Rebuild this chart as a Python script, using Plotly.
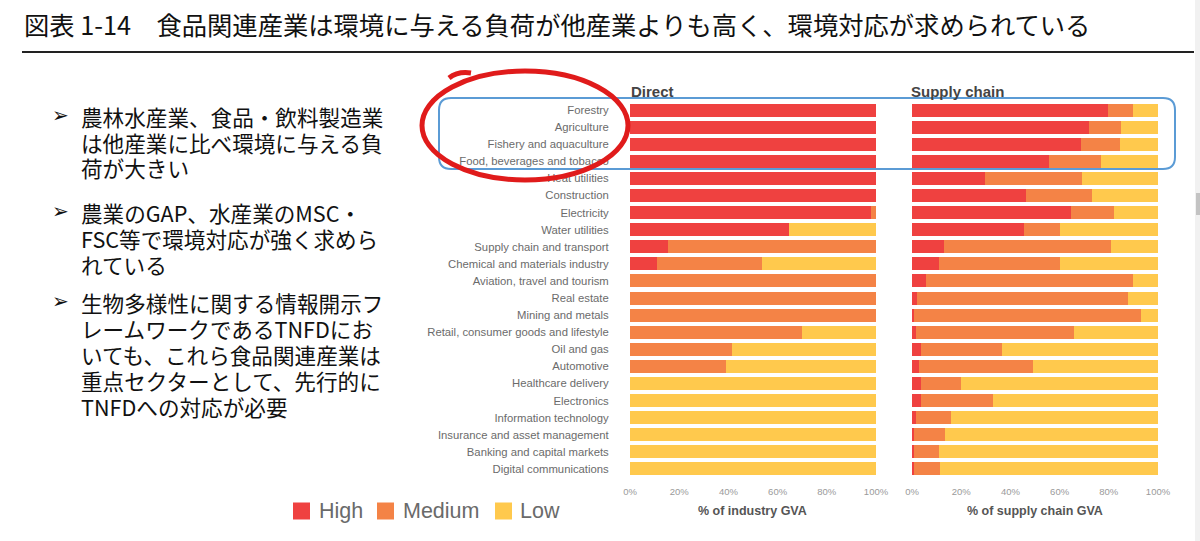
import plotly.graph_objects as go

categories = ["Forestry", "Agriculture", "Fishery and aquaculture", "Food, beverages and tobacco",
              "Heat utilities", "Construction", "Electricity", "Water utilities",
              "Supply chain and transport", "Chemical and materials industry",
              "Aviation, travel and tourism", "Real estate", "Mining and metals",
              "Retail, consumer goods and lifestyle", "Oil and gas", "Automotive",
              "Healthcare delivery", "Electronics", "Information technology",
              "Insurance and asset management", "Banking and capital markets",
              "Digital communications"]

direct_high = [100, 100, 100, 100, 100, 100, 98, 64.5, 15.5, 11, 0, 0, 0, 0, 0, 0, 0, 0, 0, 0, 0, 0]
direct_medium = [0, 0, 0, 0, 0, 0, 2, 0, 84.5, 42.5, 100, 100, 100, 70, 41.5, 39, 0, 0, 0, 0, 0, 0]
direct_low = [0, 0, 0, 0, 0, 0, 0, 35.5, 0, 46.5, 0, 0, 0, 30, 58.5, 61, 100, 100, 100, 100, 100, 100]

supply_high = [79.5, 72, 68.5, 55.5, 29.5, 46.5, 64.5, 45.5, 13, 11, 5.5, 2, 1, 1.5, 3.5, 3, 3.5, 3.5, 1.5, 1, 1, 0.7]
supply_medium = [10.5, 13, 16, 21.5, 39.5, 26.5, 17.5, 14.5, 68, 49, 84.5, 86, 92, 64.5, 33, 46, 16.5, 29.5, 14.5, 12.5, 10, 10.5]
supply_low = [10, 15, 15.5, 23, 31, 27, 18, 40, 19, 40, 10, 12, 7, 34, 63.5, 51, 80, 67, 84, 86.5, 89, 88.8]

tick_vals = [0, 20, 40, 60, 80, 100]
tick_labels = ["0%", "20%", "40%", "60%", "80%", "100%"]
level_names = ["High", "Medium", "Low"]
level_colors = ["#EF4140", "#F48346", "#FFC94D"]

panel_titles = ["Direct", "Supply chain"]
axis_titles = ["% of industry GVA", "% of supply chain GVA"]

title_text = "図表 1-14　食品関連産業は環境に与える負荷が他産業よりも高く、環境対応が求められている"
bullets = [
    ["農林水産業、食品・飲料製造業", "は他産業に比べ環境に与える負", "荷が大きい"],
    ["農業のGAP、水産業のMSC・", "FSC等で環境対応が強く求めら", "れている"],
    ["生物多様性に関する情報開示フ", "レームワークであるTNFDにお", "いても、これら食品関連産業は", "重点セクターとして、先行的に", "TNFDへの対応が必要"],
]

W, H = 1200, 541
def px(x):
    return x / W
def py(y):
    return 1 - y / H

LAT = "Liberation Sans, Arial, sans-serif"
JP = "Noto Sans CJK JP, sans-serif"

fig = go.Figure()
direct = [direct_high, direct_medium, direct_low]
supply = [supply_high, supply_medium, supply_low]
for i, name in enumerate(level_names):
    fig.add_trace(go.Bar(y=categories, x=direct[i], orientation="h", name=name,
                         marker=dict(color=level_colors[i], line=dict(width=0)),
                         showlegend=False, xaxis="x", yaxis="y", hoverinfo="skip"))
    fig.add_trace(go.Bar(y=categories, x=supply[i], orientation="h", name=name,
                         marker=dict(color=level_colors[i], line=dict(width=0)),
                         showlegend=False, xaxis="x2", yaxis="y2", hoverinfo="skip"))

ydom = [py(477.5), py(101.5)]
axis_common = dict(range=[0, 100], tickmode="array", tickvals=tick_vals, ticktext=tick_labels,
                   showgrid=False, zeroline=False, showline=False, ticks="outside", ticklen=5,
                   tickcolor="rgba(0,0,0,0)", tickfont=dict(family=LAT, size=9.5, color="#9a9a9a"),
                   automargin=False, fixedrange=True)
fig.update_layout(
    width=W, height=H, margin=dict(l=0, r=0, t=0, b=0),
    paper_bgcolor="white", plot_bgcolor="white",
    barmode="stack", bargap=0.24, showlegend=False,
    xaxis=dict(domain=[px(630), px(876)], anchor="y", **axis_common),
    xaxis2=dict(domain=[px(912), px(1158)], anchor="y2", **axis_common),
    yaxis=dict(domain=ydom, anchor="x", autorange="reversed", showgrid=False, zeroline=False,
               ticks="outside", ticklen=18, tickcolor="rgba(0,0,0,0)",
               tickfont=dict(family=LAT, size=11.3, color="#6b6b6b"), automargin=False,
               fixedrange=True),
    yaxis2=dict(domain=ydom, anchor="x2", autorange="reversed", showgrid=False, zeroline=False,
                showticklabels=False, automargin=False, matches="y", fixedrange=True),
)

ann = []
ann.append(dict(text=title_text, x=px(22), y=py(24), xref="paper", yref="paper",
                xanchor="left", yanchor="middle", showarrow=False,
                font=dict(family=JP, size=25.3, color="#111")))
first_line_y = [116, 212, 302]
line_h = 26
for b, lines in enumerate(bullets):
    ann.append(dict(text="➢", x=px(50), y=py(first_line_y[b] - 1), xref="paper", yref="paper",
                    xanchor="left", yanchor="middle", showarrow=False,
                    font=dict(family="DejaVu Sans", size=20, color="#111")))
    for j, t in enumerate(lines):
        ann.append(dict(text=t, x=px(79), y=py(first_line_y[b] + line_h * j), xref="paper",
                        yref="paper", xanchor="left", yanchor="middle", showarrow=False,
                        font=dict(family=JP, size=21.6, color="#111")))
for k, (xl, xc) in enumerate([(629, 753), (909, 1035)]):
    ann.append(dict(text="<b>" + panel_titles[k] + "</b>", x=px(xl), y=py(91), xref="paper",
                    yref="paper", xanchor="left", yanchor="middle", showarrow=False,
                    font=dict(family=LAT, size=15, color="#444")))
    ann.append(dict(text="<b>" + axis_titles[k] + "</b>", x=px(xc), y=py(511), xref="paper",
                    yref="paper", xanchor="center", yanchor="middle", showarrow=False,
                    font=dict(family=LAT, size=12.5, color="#555")))

shapes = []
# legend (manual, larger squares as in the reference)
for k, (sx, tx) in enumerate([(293, 317), (377, 401), (495, 518)]):
    shapes.append(dict(type="rect", xref="paper", yref="paper", x0=px(sx), x1=px(sx + 17),
                       y0=py(519.5), y1=py(502.5), fillcolor=level_colors[k], line=dict(width=0)))
    ann.append(dict(text=level_names[k], x=px(tx), y=py(511), xref="paper", yref="paper",
                    xanchor="left", yanchor="middle", showarrow=False,
                    font=dict(family=LAT, size=21.5, color="#6a6a6a")))
# title underline
shapes.append(dict(type="line", xref="paper", yref="paper", x0=px(22), x1=px(1194), y0=py(52), y1=py(52),
                   line=dict(color="#222", width=2)))
# scrollbar strip
shapes.append(dict(type="rect", xref="paper", yref="paper", x0=px(1195), x1=px(1200), y0=0, y1=1,
                   fillcolor="#f1f1f1", line=dict(width=0), layer="below"))
shapes.append(dict(type="rect", xref="paper", yref="paper", x0=px(1196), x1=px(1200), y0=py(215), y1=py(193),
                   fillcolor="#c3c3c3", line=dict(width=0)))
# blue rounded rectangle
x0, x1, y0, y1, r = 439, 1175, 98, 169, 12
rx, ry = r / W, r / H
X0, X1, Y0, Y1 = px(x0), px(x1), py(y0), py(y1)
path = (f"M {X0+rx},{Y0} L {X1-rx},{Y0} Q {X1},{Y0} {X1},{Y0-ry} L {X1},{Y1+ry} "
        f"Q {X1},{Y1} {X1-rx},{Y1} L {X0+rx},{Y1} Q {X0},{Y1} {X0},{Y1+ry} L {X0},{Y0-ry} "
        f"Q {X0},{Y0} {X0+rx},{Y0} Z")
shapes.append(dict(type="path", xref="paper", yref="paper", path=path,
                   line=dict(color="#5B9BD5", width=2)))
# red hand-drawn ellipse
shapes.append(dict(type="circle", xref="paper", yref="paper", x0=px(422), x1=px(628), y0=py(180), y1=py(71),
                   line=dict(color="#E01B1B", width=5)))
shapes.append(dict(type="path", xref="paper", yref="paper",
                   path=f"M {px(449)},{py(78)} Q {px(458)},{py(71)} {px(471)},{py(73)}",
                   line=dict(color="#E01B1B", width=5)))

fig.update_layout(annotations=ann, shapes=shapes)
fig.write_html("out.html", config={"displayModeBar": False},
               post_script="document.body.style.margin='0';")
